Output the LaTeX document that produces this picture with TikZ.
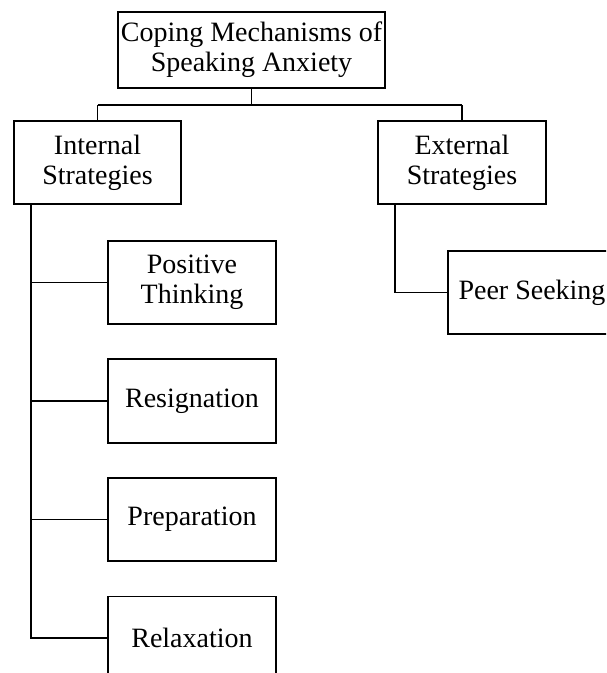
\documentclass[tikz,border=0pt]{standalone}
\usepackage{fontspec}
\setmainfont{Liberation Serif}
\begin{document}
\begin{tikzpicture}[x=1pt,y=-1pt,
  box/.style={draw, line width=1.7pt, inner sep=0pt, align=center, minimum width=168pt, minimum height=83pt, font=\fontsize{28}{30}\selectfont},
  conn/.style={line width=1.7pt}]
\useasboundingbox (0,0) rectangle (606,673);
\clip (0,0) rectangle (606,673);
\node[box, minimum width=267pt, minimum height=76pt] (top) at (251.5,50) {Coping Mechanisms of\\Speaking Anxiety};
\node[box, minimum width=167pt] (int) at (97.5,162.5) {Internal\\Strategies};
\node[box] (ext) at (462,162.5) {External\\Strategies};
\node[box] (pos) at (192,282.5) {Positive\\Thinking};
\node[box, minimum height=84pt] (res) at (192,401) {Resignation};
\node[box] (prep) at (192,519.5) {Preparation};
\node[box] (relax) at (192,638) {Relaxation};
\node[box] (peer) at (532,292.5) {Peer Seeking};
\coordinate (hub) at (251.5,105);
\coordinate (sp) at (31,204);
\coordinate (se) at (395,204);
\draw[conn] (top.south) -- (hub);
\draw[conn] (hub -| int.north) -- (hub -| ext.north);
\draw[conn] (hub -| int.north) -- (int.north);
\draw[conn] (hub -| ext.north) -- (ext.north);
\draw[conn] (sp) -- (sp |- relax.west) -- (relax.west);
\draw[conn] (sp |- pos.west) -- (pos.west);
\draw[conn] (sp |- res.west) -- (res.west);
\draw[conn] (sp |- prep.west) -- (prep.west);
\draw[conn] (se) -- (se |- peer.west) -- (peer.west);
\end{tikzpicture}
\end{document}
